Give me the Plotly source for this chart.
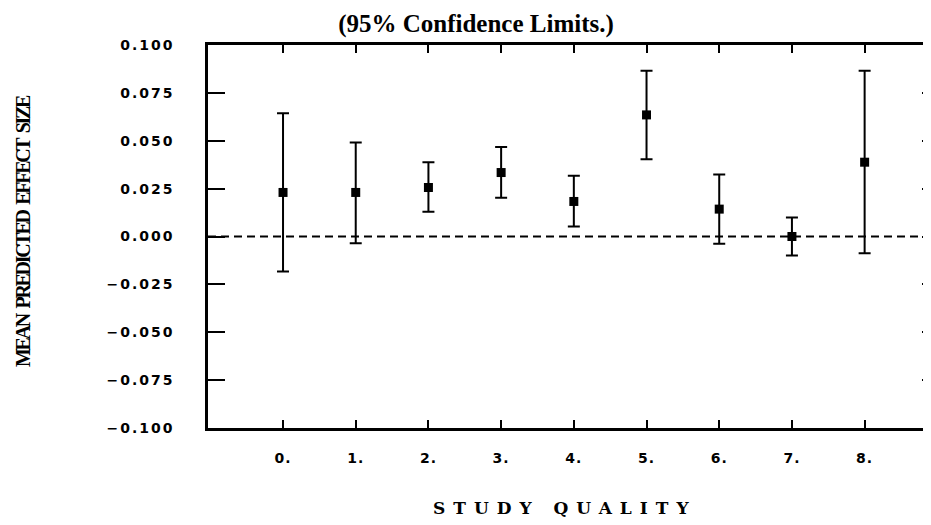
import plotly.graph_objects as go

quality = [0, 1, 2, 3, 4, 5, 6, 7, 8]
mean_es = [0.023, 0.023, 0.0256, 0.0334, 0.0183, 0.0635, 0.0143, 0.0000, 0.0388]
upper_cl = [0.0644, 0.0491, 0.0388, 0.0467, 0.0317, 0.0865, 0.0324, 0.0099, 0.0865]
lower_cl = [-0.0183, -0.0035, 0.0129, 0.0202, 0.0052, 0.0404, -0.0038, -0.0099, -0.0087]

x_ticks = [0, 1, 2, 3, 4, 5, 6, 7, 8]
x_ticktext = ["0.", "1.", "2.", "3.", "4.", "5.", "6.", "7.", "8."]
y_ticks = [0.100, 0.075, 0.050, 0.025, 0.000, -0.025, -0.050, -0.075, -0.100]
y_ticktext = ["0.100", "0.075", "0.050", "0.025", "0.000",
              "\u22120.025", "\u22120.050", "\u22120.075", "\u22120.100"]

err_plus = [u - m for u, m in zip(upper_cl, mean_es)]
err_minus = [m - l for m, l in zip(mean_es, lower_cl)]

TICKFONT = dict(family="DejaVu Sans", size=14, color="black")


def spaced(t, px, extra=""):
    return '<span style="letter-spacing:%spx;%s">%s</span>' % (px, extra, t)


fig = go.Figure()
fig.add_trace(go.Scatter(
    x=quality, y=mean_es, mode="markers",
    marker=dict(symbol="square", size=9, color="black"),
    error_y=dict(type="data", symmetric=False, array=err_plus, arrayminus=err_minus,
                 color="black", thickness=2, width=6),
    showlegend=False, hoverinfo="x+y",
))
# invisible trace so the right-side tick axis is drawn
fig.add_trace(go.Scatter(x=[quality[0]], y=[mean_es[0]], yaxis="y2", mode="markers",
                         marker=dict(opacity=0), showlegend=False, hoverinfo="skip"))

fig.add_shape(type="line", xref="paper", x0=0, x1=1, yref="y", y0=0, y1=0,
              line=dict(color="black", width=2, dash="8px,5px"), layer="below")

fig.update_layout(
    width=923, height=509,
    margin=dict(l=200, r=0, t=37, b=89),
    paper_bgcolor="white", plot_bgcolor="white",
    title=dict(text="<b>(95% Confidence Limits.)</b>",
               font=dict(family="Liberation Serif", size=25, color="black"),
               x=0.507, xref="container", xanchor="center",
               y=0.970, yref="container", yanchor="middle"),
    xaxis=dict(range=[-1.032, 8.913], tickvals=x_ticks,
               ticktext=["<b>" + spaced(t, 1) + "</b>" for t in x_ticktext],
               ticks="inside", ticklen=8, tickwidth=2, tickcolor="black",
               showline=True, linecolor="black", linewidth=2.5, mirror="ticks",
               showgrid=False, zeroline=False, tickfont=TICKFONT,
               ticklabelstandoff=15),
    yaxis=dict(range=[-0.1, 0.1], tickvals=y_ticks,
               ticktext=["<b>" + spaced(t, 2) + "</b>" for t in y_ticktext],
               ticks="inside", ticklen=17, tickwidth=2, tickcolor="black",
               showline=True, linecolor="black", linewidth=2.5,
               showgrid=False, zeroline=False, tickfont=TICKFONT,
               ticklabelstandoff=28),
    yaxis2=dict(range=[-0.1, 0.1], tickvals=y_ticks[1:-1], overlaying="y", side="right",
                ticks="inside", ticklen=9, tickwidth=2, tickcolor="black",
                showline=False, showgrid=False, zeroline=False, showticklabels=False),
    annotations=[
        dict(text="<b>" + spaced("STUDY QUALITY", 8) + "</b>", xref="paper", yref="paper",
             x=0.4938, y=-0.2089, xanchor="center", yanchor="middle", showarrow=False,
             font=dict(family="DejaVu Serif", size=17, color="black")),
        dict(text="<b>" + spaced("MEAN PREDICTED EFFECT SIZE", -2.3, "word-spacing:4px") + "</b>",
             xref="paper", yref="paper",
             x=-0.2559, y=0.514, xanchor="center", yanchor="middle", showarrow=False,
             textangle=-90,
             font=dict(family="Liberation Serif", size=20, color="black")),
    ],
)

fig.write_html("out.html")
